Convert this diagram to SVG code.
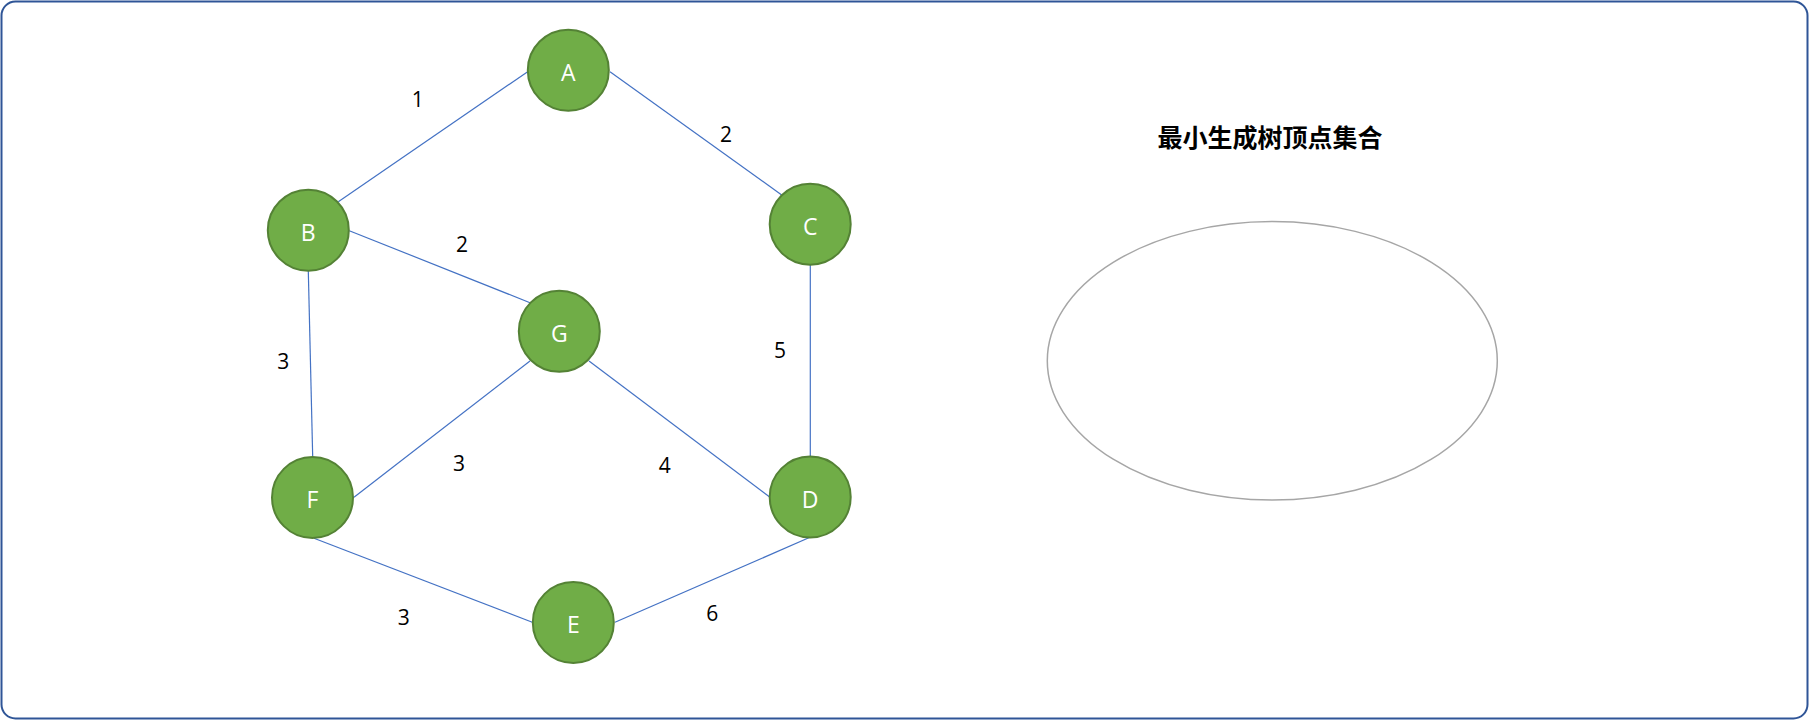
<svg xmlns="http://www.w3.org/2000/svg" width="1809" height="720" viewBox="0 0 1809 720">
<style>
.node circle{fill:#70ad47;stroke:#548235;stroke-width:2}
.node text{fill:#ffffff;font-family:"Open Sans","Noto Sans","DejaVu Sans",sans-serif;font-size:23px;text-anchor:middle}
.edges line{stroke:#4472c4;stroke-width:1.2}
.lbl{fill:#000;font-family:"Open Sans","Noto Sans","DejaVu Sans",sans-serif;font-size:21px;text-anchor:middle}
.title{fill:#000;font-family:"Noto Sans CJK SC","Noto Sans",sans-serif;font-size:25px;font-weight:bold;text-anchor:middle}
</style>
<rect x="1.5" y="1.5" width="1806" height="717" rx="14" ry="14" fill="#ffffff" stroke="#2f5597" stroke-width="2"/>
<g class="edges" id="connectors">
<line x1="527.7" y1="71.7" x2="338.3" y2="201.7"/>
<line x1="610" y1="71.7" x2="781.7" y2="195"/>
<line x1="349.3" y1="230.7" x2="530" y2="302.7"/>
<line x1="308.3" y1="271" x2="312.7" y2="456.7"/>
<line x1="810.3" y1="265" x2="810.3" y2="456.7"/>
<line x1="354" y1="497.3" x2="530" y2="361"/>
<line x1="589" y1="361" x2="769.3" y2="496.7"/>
<line x1="314" y1="538.3" x2="532.3" y2="622.3"/>
<line x1="615" y1="622.3" x2="810" y2="537.3"/>
</g>
<g id="edge-labels">
<text class="lbl" x="417.7" y="107.3">1</text>
<text class="lbl" x="726" y="141.7">2</text>
<text class="lbl" x="462" y="251.7">2</text>
<text class="lbl" x="283.3" y="369.3">3</text>
<text class="lbl" x="780" y="357.5">5</text>
<text class="lbl" x="459" y="471">3</text>
<text class="lbl" x="664.7" y="472.7">4</text>
<text class="lbl" x="403.8" y="625">3</text>
<text class="lbl" x="712.3" y="620.7">6</text>
</g>
<g class="node" id="node-A"><circle cx="568.3" cy="70.2" r="40.5"/><text x="568.3" y="80.7">A</text></g>
<g class="node" id="node-B"><circle cx="308.3" cy="230.2" r="40.5"/><text x="308.3" y="240.7">B</text></g>
<g class="node" id="node-C"><circle cx="810.2" cy="224.2" r="40.5"/><text x="810.2" y="234.7">C</text></g>
<g class="node" id="node-G"><circle cx="559.3" cy="331.3" r="40.5"/><text x="559.3" y="341.8">G</text></g>
<g class="node" id="node-F"><circle cx="312.5" cy="497.5" r="40.5"/><text x="312.5" y="508">F</text></g>
<g class="node" id="node-D"><circle cx="810.2" cy="497" r="40.5"/><text x="810.2" y="507.5">D</text></g>
<g class="node" id="node-E"><circle cx="573.3" cy="622.5" r="40.5"/><text x="573.3" y="633">E</text></g>
<g id="mst-set">
<text class="title" x="1270" y="147">最小生成树顶点集合</text>
<ellipse cx="1272.3" cy="360.8" rx="225" ry="139.2" fill="#ffffff" stroke="#a6a6a6" stroke-width="1.5"/>
</g>
</svg>
